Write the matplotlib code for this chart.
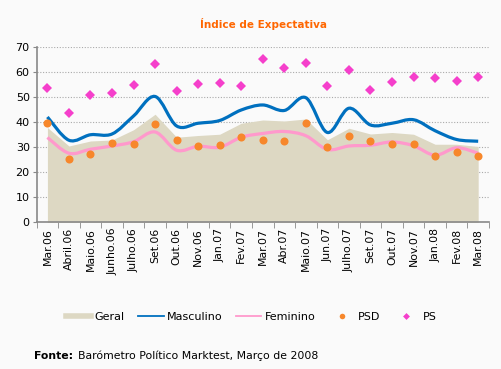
# Índice de Expectativa - Barómetro Político Marktest
import numpy as np
import matplotlib
matplotlib.use('Agg')
import matplotlib.pyplot as plt
from matplotlib.path import Path
from matplotlib.patches import PathPatch
from matplotlib.lines import Line2D

# Dados
meses = ['Mar.06', 'Abril.06', 'Maio.06', 'Junho.06', 'Julho.06', 'Set.06',
         'Out.06', 'Nov.06', 'Jan.07', 'Fev.07', 'Mar.07', 'Abr.07', 'Maio.07',
         'Jun.07', 'Julho.07', 'Set.07', 'Out.07', 'Nov.07', 'Jan.08',
         'Fev.08', 'Mar.08']
geral = [37.9, 30.5, 32.5, 32.9, 37.0, 43.2, 34.0, 34.7, 35.2, 39.6, 40.9,
         40.5, 41.3, 33.0, 37.6, 35.3, 35.9, 35.2, 31.2, 31.2, 30.3]
masculino = [42.1, 32.8, 35.0, 35.3, 42.5, 50.3, 38.5, 39.6, 40.7, 44.9, 46.9,
             44.7, 49.8, 35.9, 45.6, 38.9, 39.6, 41.0, 36.6, 33.1, 32.4]
feminino = [33.9, 27.6, 29.2, 30.5, 32.2, 36.1, 28.8, 30.4, 30.0, 34.0, 35.5,
            36.3, 34.6, 29.1, 30.5, 30.8, 32.1, 30.6, 26.8, 29.8, 27.6]
psd = [39.5, 25.5, 27.3, 31.7, 31.3, 39.2, 32.7, 30.5, 30.9, 34.0, 32.8,
       32.4, 39.6, 30.0, 34.6, 32.5, 31.1, 31.1, 26.4, 27.9, 26.4]
ps = [53.6, 43.5, 51.0, 51.6, 55.0, 63.3, 52.6, 55.4, 55.6, 54.3, 65.2,
      61.7, 63.5, 54.6, 60.8, 52.8, 56.0, 58.2, 57.7, 56.4, 58.1]

c_geral = '#ddd8c3'
c_masc = '#0070bf'
c_fem = '#ff99cc'
c_psd = '#f7872b'
c_ps = '#f53fcb'
fundo = '#fafafa'


def curva_suave(x, y):
    # Catmull-Rom convertido em curvas de Bezier cubicas
    p = np.column_stack([x, y]).astype(float)
    ext = np.vstack([p[0], p, p[-1]])
    verts = [p[0]]
    codes = [Path.MOVETO]
    for i in range(len(p) - 1):
        p0, p1, p2, p3 = ext[i], ext[i + 1], ext[i + 2], ext[i + 3]
        verts += [p1 + (p2 - p0) / 6, p2 - (p3 - p1) / 6, p2]
        codes += [Path.CURVE4] * 3
    return Path(verts, codes)


fig = plt.figure(figsize=(5.02, 3.69), dpi=100, facecolor=fundo)
ax = fig.add_axes([0.073, 0.3976, 0.901, 0.4745])
ax.set_facecolor(fundo)

x = np.arange(len(meses))

ax.fill_between(x, 0, geral, color=c_geral, linewidth=0, zorder=2)
ax.add_patch(PathPatch(curva_suave(x, masculino), fill=False,
                       edgecolor=c_masc, linewidth=2.3, zorder=3))
ax.add_patch(PathPatch(curva_suave(x, feminino), fill=False,
                       edgecolor=c_fem, linewidth=2.3, zorder=3))
ax.plot(x, psd, 'o', color=c_psd, markersize=5.8, markeredgewidth=0, zorder=4)
ax.plot(x, ps, 'D', color=c_ps, markersize=5.5, markeredgewidth=0, zorder=4)

ax.set_xlim(-0.5, len(meses) - 0.5)
ax.set_ylim(0, 70)
ax.set_yticks(range(0, 71, 10))
ax.set_xticks(x)
ax.set_xticklabels(meses, rotation=90, fontsize=7.8)
ax.set_xticks(np.arange(-0.5, len(meses), 1), minor=True)
ax.tick_params(axis='x', which='major', length=0, pad=4)
ax.tick_params(axis='x', which='minor', length=4, color='#888888')
ax.tick_params(axis='y', length=3, color='#888888', labelsize=8, pad=2)

ax.set_axisbelow(True)
ax.yaxis.grid(True, linestyle=(0, (1, 1.5)), color='#aaaaaa', linewidth=0.8)
for s in ['top', 'right']:
    ax.spines[s].set_visible(False)
for s in ['left', 'bottom']:
    ax.spines[s].set_color('#888888')
    ax.spines[s].set_linewidth(1.2)

fig.text(0.524, 1 - 24 / 369, 'Índice de Expectativa', color='#ff6600',
         fontsize=7.5, fontweight='bold', ha='center', va='center')

handles = [
    Line2D([], [], color=c_geral, linewidth=4),
    Line2D([], [], color=c_masc, linewidth=1.3),
    Line2D([], [], color=c_fem, linewidth=1.3),
    Line2D([], [], color=c_psd, marker='o', linestyle='none', markersize=4,
           markeredgewidth=0),
    Line2D([], [], color=c_ps, marker='D', linestyle='none', markersize=3.5,
           markeredgewidth=0),
]
fig.legend(handles, ['Geral', 'Masculino', 'Feminino', 'PSD', 'PS'], ncol=5,
           loc='center', bbox_to_anchor=(0.5, 1 - 317 / 369), frameon=False,
           fontsize=8, handlelength=2.3, handletextpad=0.3, columnspacing=1.2)

fig.text(34 / 502, 1 - 356 / 369, 'Fonte:', fontsize=7.8, fontweight='bold',
         va='center')
fig.text(78 / 502, 1 - 356 / 369, 'Barómetro Político Marktest, Março de 2008',
         fontsize=7.8, va='center')

fig.savefig('out.png', dpi=100, facecolor=fundo)
